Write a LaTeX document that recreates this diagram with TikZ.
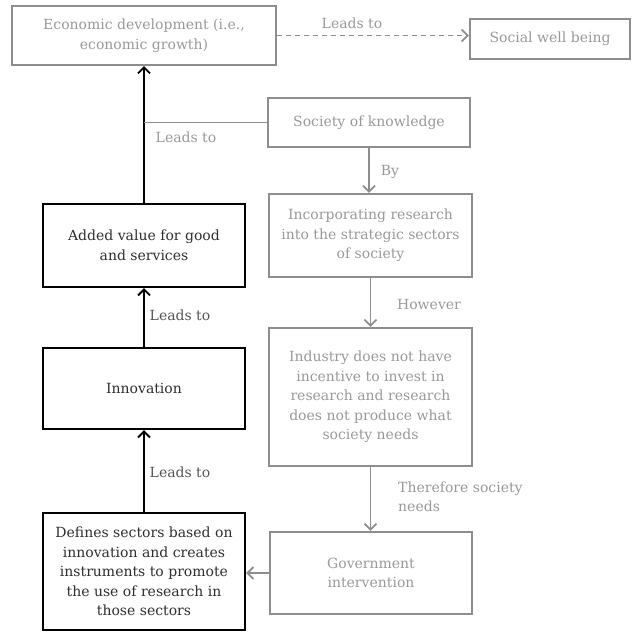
\documentclass[tikz,border=0pt]{standalone}
\usepackage{fontspec}
\setmainfont{DejaVu Serif}
\usetikzlibrary{arrows.meta}
\definecolor{boxgray}{HTML}{8E8E8E}
\definecolor{txtgray}{HTML}{999999}
\definecolor{lbldark}{HTML}{555555}
\definecolor{txtdark}{HTML}{2E2E2E}
\begin{document}
\begin{tikzpicture}[x=1pt,y=-1pt,
  base/.style={draw, line width=2.4pt, align=center, inner sep=0pt,
    font=\fontsize{14}{19.5}\selectfont},
  graybox/.style={base, draw=boxgray, text=txtgray},
  blackbox/.style={base, draw=black, text=txtdark},
  lbl/.style={font=\fontsize{14}{19.5}\selectfont, inner sep=0pt},
  graylbl/.style={lbl, text=txtgray},
  darklbl/.style={lbl, text=lbldark},
  tip/.style={-{Straight Barb[length=6pt,width=12pt,line width=1.8pt]}},
  grayline/.style={draw=boxgray, line width=1.8pt},
  blackline/.style={draw=black, line width=2pt}]
\useasboundingbox (0,0) rectangle (634,632);

% right-hand chain
\node[graybox, minimum width=264pt, minimum height=59pt] (econ) at (144,35.5)
  {Economic development (i.e.,\\economic growth)};
\node[graybox, minimum width=160pt, minimum height=40pt] (social) at (550,39)
  {Social well being};
\node[graybox, minimum width=202pt, minimum height=49pt] (society) at (369,122.5)
  {Society of knowledge};
\node[graybox, minimum width=203pt, minimum height=83pt] (incorp) at (370.5,235.5)
  {Incorporating research\\into the strategic sectors\\of society};
\node[graybox, minimum width=203pt, minimum height=138pt] (industry) at (370.5,397)
  {Industry does not have\\incentive to invest in\\research and research\\does not produce what\\society needs};
\node[graybox, minimum width=202pt, minimum height=82pt] (gov) at (371,573)
  {Government\\intervention};

% left-hand chain
\node[blackbox, minimum width=202pt, minimum height=83pt] (added) at (144,245.5)
  {Added value for good\\and services};
\node[blackbox, minimum width=202pt, minimum height=81pt] (innov) at (144,388.5)
  {Innovation};
\node[blackbox, minimum width=202pt, minimum height=117pt] (defines) at (144,571.5)
  {Defines sectors based on\\innovation and creates\\instruments to promote\\the use of research in\\those sectors};

% connectors
\draw[grayline, dashed, dash pattern=on 5pt off 4pt, tip] (econ.east) -- (econ.east -| social.west);
\draw[blackline, tip] (added.north) -- (econ.south);
\coordinate (join) at (added.north |- society.west);
\draw[grayline] (society.west) -- (join);
\draw[grayline, tip] (society.south) -- (society.south |- incorp.north);
\draw[grayline, tip] (incorp.south) -- (incorp.south |- industry.north);
\draw[grayline, tip] (industry.south) -- (industry.south |- gov.north);
\draw[grayline, tip] (gov.west) -- (gov.west -| defines.east);
\draw[blackline, tip] (innov.north) -- (added.south);
\draw[blackline, tip] (defines.north) -- (innov.south);

% labels
\node[graylbl] (l1) at (352,23) {Leads to};
\node[graylbl] (l2) at (186,137) {Leads to};
\node[graylbl] (l3) at (390,172) {By};
\node[graylbl] (l4) at (429,304) {However};
\node[graylbl, align=left, anchor=west] (l5) at (398,497) {Therefore society\\needs};
\node[darklbl] (l6) at (180,315) {Leads to};
\node[darklbl] (l7) at (180,472) {Leads to};
\end{tikzpicture}
\end{document}
